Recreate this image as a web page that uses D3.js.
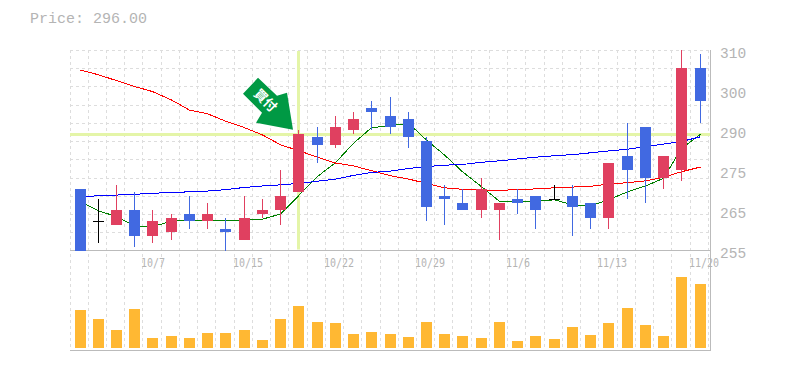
<!DOCTYPE html>
<html>
<head>
<meta charset="utf-8">
<script src="https://cdn.jsdelivr.net/npm/d3@7"></script>
<style>
  html, body { margin: 0; padding: 0; background: #fff; }
  svg { display: block; }
  text { fill: #b4b4b4; font-family: "Liberation Mono", monospace; }
</style>
</head>
<body>
<div id="graphContainer"></div>
<script>
const opens = [272, 263, 262, 266, 259, 260, 265, 263, 261, 258, 265, 266, 271, 286, 284, 288, 294, 292, 291, 285, 270, 268, 266, 266, 269, 270, 269, 270, 268, 264, 281, 289, 275, 277, 305];
const closes = [255, 263, 266, 259, 263, 264, 263, 265, 260, 264, 266, 270, 287, 284, 289, 291, 293, 289, 286, 267, 269, 266, 272, 268, 268, 266, 269, 267, 264, 279, 277, 275, 281, 305, 296];
const highs = [272, 269, 273, 271, 266, 265, 270, 268, 264, 270, 269, 277, 288, 289, 292, 293, 296, 297, 293, 286, 273, 272, 275, 268, 272, 270, 273, 273, 268, 279, 290, 289, 281, 310, 309];
const lows = [255, 257, 262, 256, 257, 258, 261, 261, 255, 258, 264, 262, 271, 279, 283, 287, 288, 287, 283, 263, 262, 266, 264, 258, 265, 261, 269, 259, 261, 261, 269, 268, 272, 274, 290];
const volumes = [38, 29, 18, 39, 10, 12, 10, 15, 15, 18, 8, 29, 42, 26, 25, 14, 16, 14, 11, 26, 14, 12, 10, 26, 7, 12, 9, 21, 13, 25, 40, 23, 12, 71, 64];

const maFast = [268.4, 265.9, 264.3, 261.7, 261.5, 263.1, 263.3, 263.1, 263.3, 263.3, 263.6, 265.0, 270.0, 275.3, 279.1, 284.4, 288.7, 289.2, 289.9, 285.3, 281.2, 276.6, 272.5, 268.5, 268.5, 268.5, 268.9, 267.5, 267.2, 268.9, 271.1, 272.7, 274.8, 283.0, 286.9];
const maMid = [304.5, 303.2, 301.6, 300.0, 298.6, 296.3, 293.5, 292.5, 290.5, 288.7, 286.7, 284.0, 282.4, 280.6, 279.0, 278.2, 276.9, 275.5, 274.6, 273.4, 272.2, 271.8, 271.5, 271.5, 271.7, 271.9, 272.2, 272.4, 272.6, 273.2, 273.6, 274.1, 275.1, 276.6, 277.9];
const maSlow = [269.8, 270.0, 270.2, 270.4, 270.7, 270.9, 271.1, 271.3, 271.7, 272.3, 272.7, 273.0, 273.4, 274.0, 274.6, 275.6, 276.4, 276.8, 277.5, 278.0, 278.4, 278.6, 279.2, 279.6, 280.1, 280.6, 281.0, 281.3, 281.8, 282.3, 282.8, 283.5, 284.2, 284.9, 286.2];

const dateIndexes = [4, 9, 14, 19, 24, 29, 34];
const dateLabels = ['10/7', '10/15', '10/22', '10/29', '11/6', '11/13', '11/20'];
const priceLabels = ['310', '300', '290', '275', '265', '255'];
const gridPrices = [260, 265, 270, 275, 280, 285, 290, 295, 300, 305, 310];
const currentPrice = '296.00';
const signalIndex = 12;
const signalPrice = 287;

const upColour = '#e04060';
const downColour = '#4169e1';
const dojiColour = '#000';
const crossColour = '#e4f5a8';
const gridColour = '#ddd';
const axisColour = '#bbb';
const volumeColour = '#ffb833';

const canvasWidth = 785;
const canvasHeight = 370;
const plotLeft = 70;
const plotRight = 710;
const plotTop = 50;
const priceBottom = 250.5;
const volumeBottom = 348;
const axisBottom = 350.5;
const bodyWidth = 11;

const svg = d3
  .select('#graphContainer')
  .append('svg')
  .attr('width', canvasWidth)
  .attr('height', canvasHeight);

const xScale = d3.scaleLinear().domain([0, opens.length - 1]).range([80, 700]);
const x = i => Math.floor(xScale(i));
const y = d3.scaleLinear().domain([255, 310]).range([priceBottom, plotTop]);
const yVolume = d3.scaleLinear().domain([0, 75]).range([volumeBottom, volumeBottom - 75]);
const labelY = d3.scalePoint().domain(priceLabels).range([53, 253]);

// grid
const grid = svg
  .append('g')
  .attr('stroke', gridColour)
  .attr('stroke-dasharray', '3,3')
  .attr('shape-rendering', 'crispEdges');

grid
  .selectAll('.v')
  .data(opens.map((d, i) => x(i) - 10).concat([708]))
  .enter()
  .append('line')
  .attr('x1', d => d + 0.5)
  .attr('x2', d => d + 0.5)
  .attr('y1', plotTop)
  .attr('y2', axisBottom);

grid
  .selectAll('.h')
  .data(gridPrices)
  .enter()
  .append('line')
  .attr('x1', plotLeft)
  .attr('x2', plotRight)
  .attr('y1', d => Math.round(y(d)) + 0.5)
  .attr('y2', d => Math.round(y(d)) + 0.5);

// signal cross
svg
  .append('rect')
  .attr('x', plotLeft)
  .attr('y', Math.round(y(signalPrice)) - 1)
  .attr('width', plotRight - plotLeft)
  .attr('height', 3)
  .attr('fill', crossColour);
svg
  .append('rect')
  .attr('x', x(signalIndex) - 1)
  .attr('y', plotTop + 1)
  .attr('width', 3)
  .attr('height', priceBottom - plotTop - 2)
  .attr('fill', crossColour);

// axes
const axes = svg
  .append('g')
  .attr('stroke', axisColour)
  .attr('shape-rendering', 'crispEdges');
axes.append('line').attr('x1', plotLeft).attr('x2', plotRight).attr('y1', 250.5).attr('y2', 250.5);
axes.append('line').attr('x1', plotLeft).attr('x2', plotRight).attr('y1', axisBottom).attr('y2', axisBottom);
axes.append('line').attr('x1', plotRight + 0.5).attr('x2', plotRight + 0.5).attr('y1', plotTop).attr('y2', axisBottom);

// moving averages
const line = d3
  .line()
  .x((d, i) => x(i) + 0.5)
  .y(d => y(d));
[
  [maFast, '#008000'],
  [maMid, '#ff0000'],
  [maSlow, '#0000ff'],
].forEach(([values, colour]) => {
  svg
    .append('path')
    .attr('d', line(values))
    .attr('fill', 'none')
    .attr('stroke', colour)
    .attr('stroke-width', 1)
    .attr('shape-rendering', 'crispEdges');
});

// candles
const colourOf = i => {
  if (opens[i] === closes[i]) return dojiColour;
  return closes[i] > opens[i] ? upColour : downColour;
};
const candle = svg
  .append('g')
  .attr('shape-rendering', 'crispEdges')
  .selectAll('g')
  .data(opens.map((d, i) => i))
  .enter()
  .append('g')
  .attr('fill', colourOf);

candle
  .append('rect')
  .attr('x', i => x(i))
  .attr('width', 1)
  .attr('y', i => y(highs[i]))
  .attr('height', i => y(lows[i]) - y(highs[i]));

candle
  .append('rect')
  .attr('x', i => x(i) - 5)
  .attr('width', bodyWidth)
  .attr('y', i => y(Math.max(opens[i], closes[i])))
  .attr('height', i => Math.max(1, Math.abs(y(opens[i]) - y(closes[i]))));

// volume
svg
  .append('g')
  .attr('shape-rendering', 'crispEdges')
  .selectAll('rect')
  .data(volumes)
  .enter()
  .append('rect')
  .attr('x', (d, i) => x(i) - 5)
  .attr('width', bodyWidth)
  .attr('y', d => yVolume(d))
  .attr('height', d => volumeBottom - yVolume(d))
  .attr('fill', volumeColour);

// signal arrow
const arrow = svg
  .append('g')
  .attr('transform', `translate(${x(signalIndex) - 5},${y(signalPrice) - 4})`);
arrow
  .append('polygon')
  .attr('points', '-35,-52 -16,-34 -6,-37 0,0 -37,-7 -31,-17 -50,-36')
  .attr('fill', '#009944');
arrow
  .append('text')
  .text('買付')
  .attr('transform', 'translate(-27.5,-29.5) rotate(45)')
  .attr('text-anchor', 'middle')
  .attr('dy', '0.35em')
  .style('fill', '#fff')
  .style('font-family', '"Noto Sans CJK JP"')
  .style('font-weight', 'bold')
  .style('font-size', '13px');

// labels
svg
  .append('text')
  .text(`Price: ${currentPrice}`)
  .attr('x', 30)
  .attr('y', 23)
  .style('font-size', '15px');

svg
  .selectAll('.price')
  .data(priceLabels)
  .enter()
  .append('text')
  .text(d => d)
  .attr('x', 720)
  .attr('y', d => labelY(d) + 5)
  .style('font-size', '14.5px');

svg
  .selectAll('.date')
  .data(dateLabels)
  .enter()
  .append('text')
  .text(d => d)
  .attr('transform', (d, i) => `translate(${x(dateIndexes[i]) - 11},266.5) scale(1,1.25)`)
  .style('font-family', '"DejaVu Sans Mono", monospace')
  .style('font-size', '10px');
</script>
</body>
</html>
